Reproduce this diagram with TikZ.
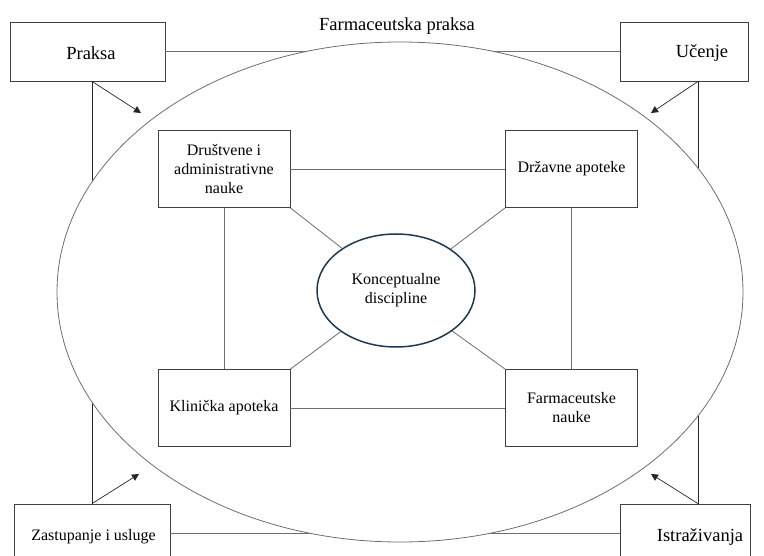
\documentclass[tikz,border=0pt]{standalone}
\usepackage{fontspec}
\setmainfont{Liberation Serif}
\usetikzlibrary{arrows.meta,shapes.geometric}
\definecolor{boxline}{HTML}{404040}
\definecolor{linkline}{HTML}{6E6E6E}
\definecolor{coreline}{HTML}{1F3A4F}

\begin{document}
\begin{tikzpicture}[x=1pt,y=-1pt,
  big/.style={font=\fontsize{18.5}{22}\selectfont},
  small/.style={font=\fontsize{16}{19}\selectfont, align=center},
  cornerbox/.style={draw=boxline, line width=0.8pt, rectangle, inner sep=0pt},
  innerbox/.style={draw=boxline, line width=0.8pt, rectangle, inner sep=0pt,
                   minimum width=132pt, minimum height=77pt, small},
  link/.style={draw=linkline, line width=0.8pt},
  rail/.style={draw=black!85, line width=0.7pt},
  push/.style={rail, -{Triangle[length=7pt,width=7pt]}},
]
\useasboundingbox (0,0) rectangle (764,556);
\clip (0,0) rectangle (764,556);

% x positions of the side rails, y of the bottom link
\coordinate (lx) at (92,0);
\coordinate (rx) at (698,0);
\coordinate (by) at (0,533);

% corner boxes
\node[cornerbox, minimum width=155pt, minimum height=59pt] (prak) at (87.5,51.5) {};
\node[cornerbox, minimum width=128pt, minimum height=59pt] (ucen) at (684,51.5) {};
\node[cornerbox, minimum width=156pt, minimum height=70pt] (zast) at (92,539) {};
\node[cornerbox, minimum width=130pt, minimum height=70pt] (istr) at (685,539) {};

\node[big, anchor=base] (prakT) at (91,60) {Praksa};
\node[big, anchor=base] (ucenT) at (702,57.5) {Učenje};
\node[small, anchor=base] (zastT) at (93.5,540.5) {Zastupanje i usluge};
\node[big, anchor=base] (istrT) at (700,541.5) {Istraživanja};

% frame links between the corner boxes
\draw[link] (prak.east) -- (ucen.west);
\draw[link] (zast.east |- by) -- (istr.west |- by);
\draw[rail] (prak.south -| lx) -- (zast.north -| lx);
\draw[rail] (ucen.south -| rx) -- (istr.north -| rx);

% the practice field
\node[ellipse, draw=linkline, line width=0.8pt, fill=white, inner sep=0pt,
      minimum width=686pt, minimum height=500pt] (field) at (400,292) {};
\node[big, anchor=base] (title) at (397,30.5) {Farmaceutska praksa};

% arrows into the field
\coordinate (tipA) at (141,113);
\coordinate (tipB) at (651,113);
\coordinate (tipC) at (139,474);
\coordinate (tipD) at (651,474);
\draw[push] (prak.south -| lx) -- (tipA);
\draw[push] (ucen.south -| rx) -- (tipB);
\draw[push] (zast.north -| lx) -- (tipC);
\draw[push] (istr.north -| rx) -- (tipD);

% disciplines
\node[innerbox] (dru) at (224,169) {Društvene i\\administrativne\\nauke};
\node[innerbox] (drz) at (571.5,169) {Državne apoteke};
\node[innerbox] (kli) at (224,408) {Klinička apoteka};
\node[innerbox] (far) at (571.5,408) {Farmaceutske\\nauke};

\node[ellipse, draw=coreline, line width=1.5pt, inner sep=0pt,
      minimum width=158pt, minimum height=113pt, small] (kon) at (396,290.5)
      {Konceptualne\\discipline};

\draw[link] (dru) -- (drz);
\draw[link] (kli) -- (far);
\draw[link] (dru) -- (kli);
\draw[link] (drz) -- (far);
\draw[link] (dru.south east) -- (kon);
\draw[link] (drz.south west) -- (kon);
\draw[link] (kli.north east) -- (kon);
\draw[link] (far.north west) -- (kon);
\end{tikzpicture}
\end{document}
